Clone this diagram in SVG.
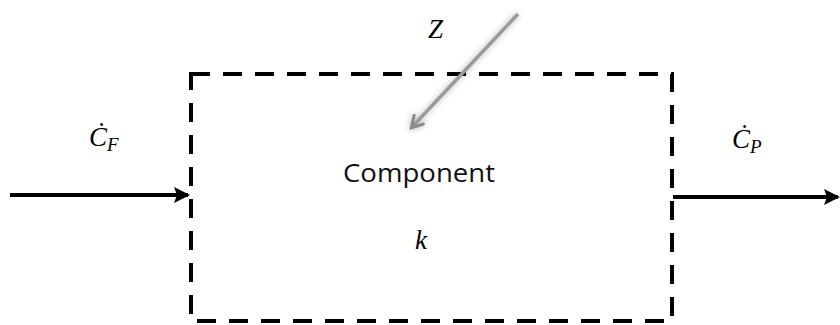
<svg xmlns="http://www.w3.org/2000/svg" width="840" height="325" viewBox="0 0 840 325">
<style>
.math{font-family:"Liberation Serif","DejaVu Serif",serif;font-style:italic;font-size:27px;fill:#000}
.sub{font-size:19px}
.lbl{font-family:"Open Sans","Liberation Sans",sans-serif;font-size:26px;fill:#111}
.flow{stroke:#000;stroke-width:4;fill:none}
</style>
<defs>
<marker id="ah" markerWidth="16" markerHeight="16" refX="14" refY="8" orient="auto" markerUnits="userSpaceOnUse" viewBox="0 0 16 16">
<path d="M0,0 L16,8 L0,16 L3,8 z" fill="#000"/>
</marker>
<marker id="ahg" markerWidth="16" markerHeight="16" refX="12" refY="8" orient="auto" markerUnits="userSpaceOnUse" viewBox="0 0 16 16">
<path d="M1,1 L13,8 L1,15" fill="none" stroke="#8a8a8a" stroke-width="3"/>
</marker>
<filter id="sh" x="-30%" y="-30%" width="160%" height="160%">
<feGaussianBlur in="SourceAlpha" stdDeviation="3"/>
<feOffset dx="0" dy="0" result="b"/>
<feFlood flood-color="#000" flood-opacity="0.3"/>
<feComposite in2="b" operator="in"/>
<feMerge><feMergeNode/><feMergeNode in="SourceGraphic"/></feMerge>
</filter>
</defs>
<g id="component">
<rect x="191" y="74" width="481" height="247" fill="none" stroke="#000" stroke-width="4" stroke-dasharray="19 13"/>
<text class="lbl" x="343" y="182" textLength="152" lengthAdjust="spacingAndGlyphs">Component</text>
<text class="math" x="421" y="249" text-anchor="middle">k</text>
</g>
<g id="connectors">
<line class="flow" x1="10" y1="195" x2="188" y2="195" marker-end="url(#ah)"/>
<line class="flow" x1="673" y1="197" x2="838" y2="197" marker-end="url(#ah)"/>
<g filter="url(#sh)">
<line x1="518" y1="14" x2="412" y2="127" stroke="#9a9a9a" stroke-width="3.5" marker-end="url(#ahg)"/>
</g>
</g>
<g id="labels">
<text class="math" x="428" y="38">Z</text>
<text class="math" x="89" y="146">Ċ<tspan class="sub" dy="5">F</tspan></text>
<text class="math" x="732" y="148">Ċ<tspan class="sub" dy="5">P</tspan></text>
</g>
</svg>
